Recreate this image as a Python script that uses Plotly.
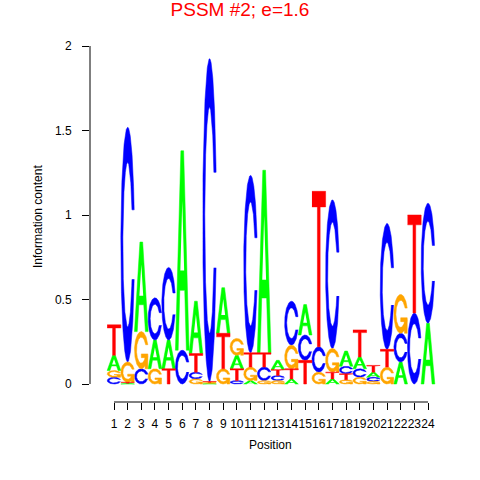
import numpy as np
import plotly.graph_objects as go

# ---------------- data (information content in bits per letter) ----------------
positions = list(range(1, 25))
bits_A = [0.09, 0.005, 0.53, 0.17, 0.17, 1.18, 0.31, 0.005, 0.27, 0.08, 0.02, 1.08,
          0.055, 0.03, 0.18, 0.0, 0.03, 0.09, 0.07, 0.03, 0.0, 0.13, 0.0, 0.36]
bits_C = [0.04, 1.39, 0.09, 0.25, 0.43, 0.20, 0.04, 1.91, 0.0, 0.02, 1.05, 0.08,
          0.03, 0.26, 0.15, 0.15, 0.88, 0.045, 0.05, 0.025, 0.745, 0.17, 0.42, 0.71]
bits_G = [0.04, 0.12, 0.22, 0.09, 0.0, 0.0, 0.03, 0.005, 0.09, 0.10, 0.08, 0.02,
          0.02, 0.14, 0.0, 0.07, 0.14, 0.025, 0.04, 0.015, 0.10, 0.23, 0.0, 0.0]
bits_T = [0.18, 0.005, 0.0, 0.0, 0.09, 0.0, 0.11, 0.005, 0.21, 0.07, 0.085, 0.085,
          0.035, 0.06, 0.14, 0.92, 0.04, 0.035, 0.16, 0.04, 0.105, 0.0, 0.58, 0.0]
letters = ["A", "C", "G", "T"]
colors = {"A": "#00FF00", "C": "#0000FF", "G": "#FFA500", "T": "#FF0000"}
y_ticks = [0, 0.5, 1, 1.5, 2]
y_ticktext = ["0", "0.5", "1", "1.5", "2"]
title_text = "PSSM #2; e=1.6"

# ---------------- glyph templates in unit box ----------------
def c_outline():
    a1 = np.linspace(0.3 + np.pi / 2, np.pi, 100)
    a2 = np.linspace(np.pi, 1.5 * np.pi, 100)
    xl1 = 0.5 + 0.5 * np.sin(a1); yl1 = 0.5 + 0.5 * np.cos(a1)
    xl2 = 0.5 + 0.5 * np.sin(a2); yl2 = 0.5 + 0.5 * np.cos(a2)
    xl = np.concatenate([xl1, xl2]); yl = np.concatenate([yl1, yl2])
    x = np.concatenate([xl, xl[::-1]]); y = np.concatenate([yl, 1 - yl[::-1]])
    xi1 = 0.5 + 0.35 * np.sin(a1); yi1 = 0.5 + 0.35 * np.cos(a1)
    m = yi1 <= yl1.max()
    xi1 = xi1[m]; yi1 = yi1[m].copy(); yi1[0] = yl1.max()
    xi2 = 0.5 + 0.35 * np.sin(a2); yi2 = 0.5 + 0.35 * np.cos(a2)
    xi = np.concatenate([xi1, xi2]); yi = np.concatenate([yi1, yi2])
    x1 = np.concatenate([xi, xi[::-1]]); y1 = np.concatenate([yi, 1 - yi[::-1]])
    x = np.concatenate([x, x1[::-1]]); y = np.concatenate([y, y1[::-1]])
    return x, y, xl1.max()

def glyph(letter):
    if letter == "A":
        x = np.array([0, 4, 6, 10, 8, 6.8, 3.2, 2, 0]) / 10
        y = np.array([0, 10, 10, 0, 0, 3, 3, 0, 0]) / 10
        return [(x, y)], [(np.array([3.6, 5, 6.4, 3.6]) / 10, np.array([4, 7.5, 4, 4]) / 10)]
    if letter == "T":
        x = np.array([0, 10, 10, 6, 6, 4, 4, 0]) / 10
        y = np.array([10, 10, 9, 9, 0, 0, 9, 9]) / 10
        return [(x, y)], []
    x, y, r1 = c_outline()
    if letter == "C":
        return [(x, y)], []
    h1 = 0.4
    xa = np.array([r1, 0.5, 0.5, r1 - 0.2, r1 - 0.2, r1, r1])
    ya = np.array([h1, h1, h1 - 0.1, h1 - 0.1, 0, 0, h1])
    return [(x[::-1], y[::-1]), (xa, ya)], []

# ---------------- build stacked polygons ----------------
bits = {"A": bits_A, "C": bits_C, "G": bits_G, "T": bits_T}
paths = {L: ([], []) for L in letters}
holes = ([], [])
wt = 1.0
for i, p in enumerate(positions):
    col = sorted(letters, key=lambda L: bits[L][i])
    y0 = 0.0
    for L in col:
        h = bits[L][i]
        if h <= 0:
            continue
        polys, hs = glyph(L)
        for gx, gy in polys:
            paths[L][0].extend(list(p - 0.5 + wt * gx) + [None])
            paths[L][1].extend(list(y0 + h * gy) + [None])
        for gx, gy in hs:
            holes[0].extend(list(p - 0.5 + wt * gx) + [None])
            holes[1].extend(list(y0 + h * gy) + [None])
        y0 += h

fig = go.Figure()
for L in letters:
    fig.add_trace(go.Scatter(x=paths[L][0], y=paths[L][1], mode="lines", fill="toself",
                             fillcolor=colors[L], line=dict(width=0.5, color=colors[L]),
                             hoverinfo="skip", showlegend=False))
fig.add_trace(go.Scatter(x=holes[0], y=holes[1], mode="lines", fill="toself",
                         fillcolor="white", line=dict(width=0, color="white"),
                         hoverinfo="skip", showlegend=False))

# ---------------- layout ----------------
L_PX, R_PX, T_PX, B_PX = 90, 450, 32, 402
px_per_pos = 13.652
x_lo = 1 - (114 - L_PX) / px_per_pos
x_hi = x_lo + (R_PX - L_PX) / px_per_pos
px_per_bit = 169.0
y_lo = -(B_PX - 384) / px_per_bit
y_hi = (384 - T_PX) / px_per_bit

font_family = "Liberation Sans, Arial, sans-serif"
fig.update_layout(
    width=480, height=480,
    margin=dict(l=L_PX, r=480 - R_PX, t=T_PX, b=480 - B_PX, pad=0, autoexpand=False),
    paper_bgcolor="white", plot_bgcolor="white",
    font=dict(family=font_family, size=12, color="black"),
    title=dict(text=title_text, x=0.5, xref="container", xanchor="center",
               y=1 - 9 / 480, yref="container", yanchor="middle", automargin=False,
               font=dict(family=font_family, size=19, color="#FF0000")),
    xaxis=dict(range=[x_lo, x_hi], showgrid=False, zeroline=False, showline=False,
               automargin=False,
               tickmode="array", tickvals=positions, ticktext=[str(p) for p in positions],
               ticks="outside", ticklen=7, tickwidth=1, tickcolor="black",
               ticklabelstandoff=4, tickangle=0,
               tickfont=dict(size=12, color="black")),
    yaxis=dict(range=[y_lo, y_hi], showgrid=False, zeroline=False, showline=False,
               automargin=False,
               tickmode="array", tickvals=y_ticks, ticktext=y_ticktext,
               ticks="outside", ticklen=7, tickwidth=1, tickcolor="black",
               ticklabelstandoff=8,
               tickfont=dict(size=12, color="black")),
    shapes=[
        dict(type="line", xref="paper", yref="y", x0=0, x1=0, y0=0, y1=2,
             line=dict(color="black", width=1)),
        dict(type="line", xref="x", yref="paper", x0=1, x1=24, y0=0, y1=0,
             line=dict(color="black", width=1)),
    ],
    annotations=[
        dict(text="Position", xref="paper", yref="paper", x=0.5, y=-(445 - B_PX) / (B_PX - T_PX),
             xanchor="center", yanchor="middle", showarrow=False,
             font=dict(size=12, color="black")),
        dict(text="Information content", xref="paper", yref="paper",
             x=-(L_PX - 38) / (R_PX - L_PX), y=0.5, textangle=-90,
             xanchor="center", yanchor="middle", showarrow=False,
             font=dict(size=12, color="black")),
    ],
)

fig.write_html("out.html", config={"displayModeBar": False},
               post_script="document.body.style.margin='0';")
